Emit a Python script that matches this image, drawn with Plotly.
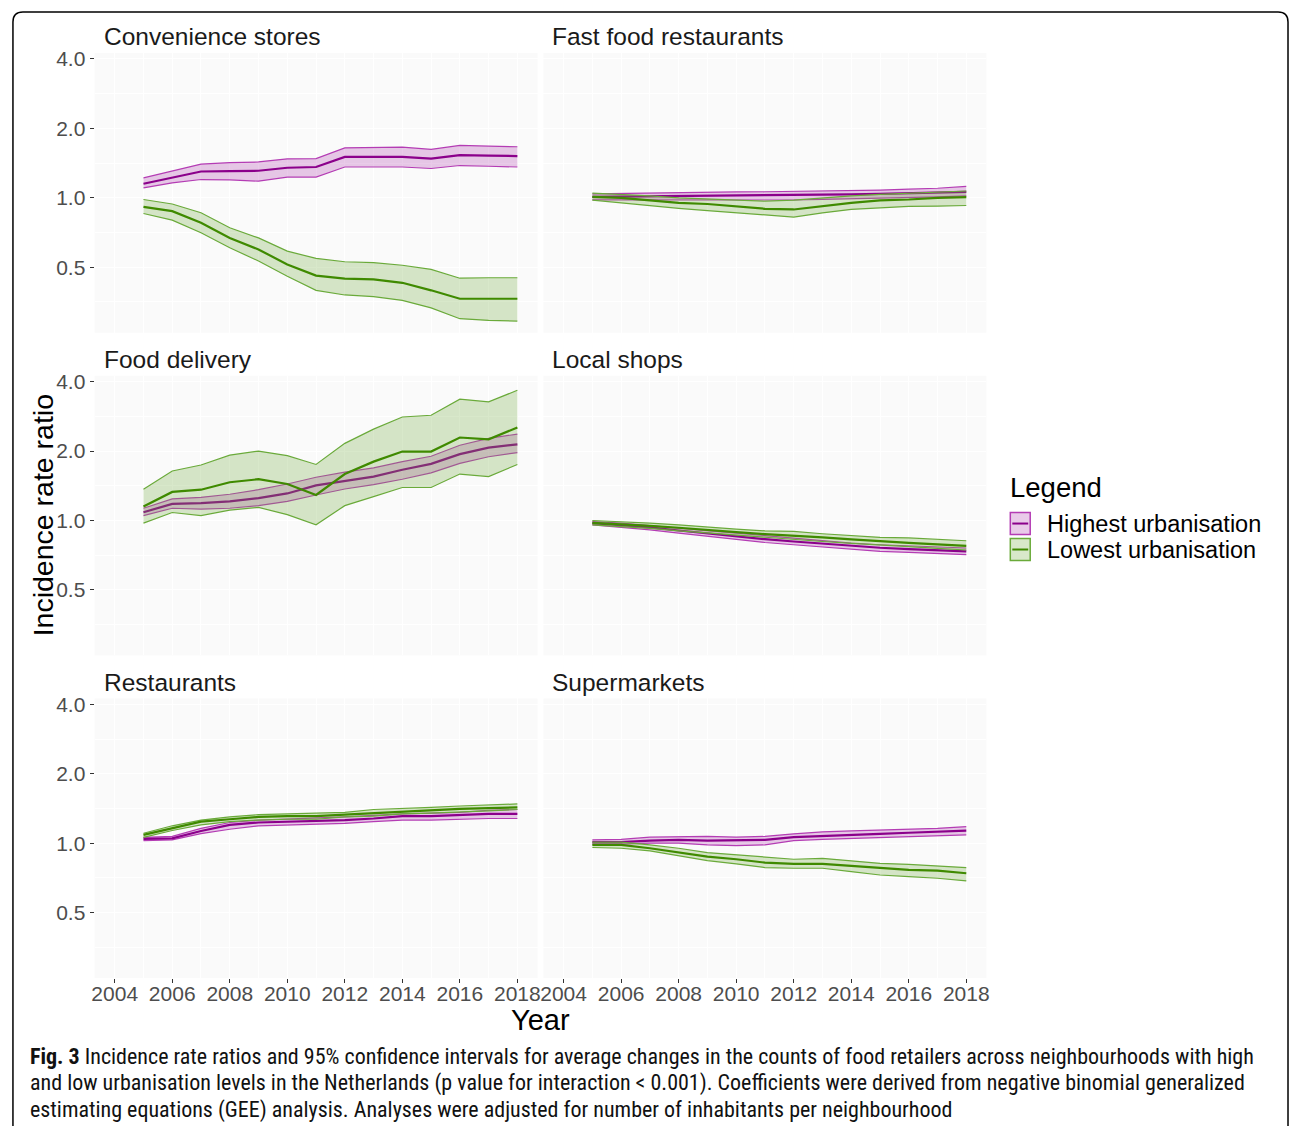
import plotly.graph_objects as go

years = list(range(2005, 2019))
panels = ["Convenience stores", "Fast food restaurants", "Food delivery",
          "Local shops", "Restaurants", "Supermarkets"]
x_ticks = [2004, 2006, 2008, 2010, 2012, 2014, 2016, 2018]
y_ticks = [0.5, 1.0, 2.0, 4.0]
y_tick_labels = ["0.5", "1.0", "2.0", "4.0"]
groups = ["Highest urbanisation", "Lowest urbanisation"]

# Convenience stores
cs_hi_mean = [1.15, 1.22, 1.30, 1.305, 1.31, 1.35, 1.36, 1.505, 1.505, 1.505, 1.48, 1.53, 1.525, 1.516]
cs_hi_low = [1.105, 1.16, 1.20, 1.197, 1.18, 1.23, 1.23, 1.36, 1.36, 1.36, 1.34, 1.38, 1.37, 1.36]
cs_hi_up = [1.22, 1.305, 1.40, 1.42, 1.43, 1.475, 1.48, 1.647, 1.647, 1.657, 1.62, 1.686, 1.675, 1.665]
cs_lo_mean = [0.914, 0.875, 0.779, 0.67, 0.597, 0.514, 0.46, 0.446, 0.443, 0.428, 0.397, 0.365, 0.365, 0.365]
cs_lo_low = [0.855, 0.80, 0.705, 0.607, 0.532, 0.457, 0.397, 0.379, 0.373, 0.359, 0.333, 0.299, 0.294, 0.292]
cs_lo_up = [0.983, 0.94, 0.861, 0.741, 0.67, 0.587, 0.546, 0.528, 0.523, 0.51, 0.489, 0.448, 0.45, 0.45]

# Fast food restaurants
ff_hi_mean = [1.01, 1.012, 1.015, 1.018, 1.02, 1.022, 1.025, 1.028, 1.03, 1.035, 1.04, 1.045, 1.05, 1.06]
ff_hi_low = [0.98, 0.98, 0.978, 0.978, 0.976, 0.975, 0.975, 0.978, 0.985, 0.99, 0.998, 1.005, 1.01, 1.02]
ff_hi_up = [1.04, 1.045, 1.05, 1.055, 1.058, 1.06, 1.062, 1.065, 1.07, 1.075, 1.08, 1.09, 1.10, 1.12]
ff_lo_mean = [1.01, 1.0, 0.974, 0.95, 0.94, 0.92, 0.896, 0.89, 0.92, 0.95, 0.974, 0.983, 1.0, 1.007]
ff_lo_low = [0.977, 0.95, 0.93, 0.90, 0.88, 0.86, 0.838, 0.825, 0.86, 0.89, 0.905, 0.917, 0.92, 0.926]
ff_lo_up = [1.047, 1.035, 1.02, 1.0, 0.99, 0.983, 0.967, 0.977, 1.0, 1.02, 1.035, 1.045, 1.06, 1.07]

# Food delivery
fd_hi_mean = [1.086, 1.18, 1.19, 1.21, 1.25, 1.31, 1.42, 1.48, 1.55, 1.66, 1.76, 1.94, 2.07, 2.14]
fd_hi_low = [1.05, 1.13, 1.12, 1.13, 1.16, 1.21, 1.29, 1.37, 1.43, 1.51, 1.61, 1.77, 1.89, 1.97]
fd_hi_up = [1.13, 1.24, 1.26, 1.30, 1.36, 1.44, 1.54, 1.62, 1.69, 1.80, 1.90, 2.12, 2.27, 2.37]
fd_lo_mean = [1.15, 1.33, 1.36, 1.465, 1.51, 1.44, 1.29, 1.59, 1.80, 1.99, 1.99, 2.29, 2.25, 2.53]
fd_lo_low = [0.974, 1.083, 1.05, 1.11, 1.14, 1.06, 0.958, 1.16, 1.27, 1.39, 1.39, 1.59, 1.55, 1.75]
fd_lo_up = [1.366, 1.64, 1.74, 1.92, 2.0, 1.91, 1.75, 2.16, 2.49, 2.81, 2.86, 3.36, 3.27, 3.67]

# Local shops
ls_hi_mean = [0.974, 0.955, 0.933, 0.905, 0.879, 0.853, 0.83, 0.811, 0.793, 0.775, 0.762, 0.752, 0.742, 0.735]
ls_hi_low = [0.958, 0.936, 0.911, 0.882, 0.853, 0.825, 0.803, 0.785, 0.767, 0.747, 0.735, 0.727, 0.718, 0.711]
ls_hi_up = [0.99, 0.974, 0.951, 0.927, 0.902, 0.879, 0.856, 0.84, 0.817, 0.798, 0.785, 0.777, 0.767, 0.76]
ls_lo_mean = [0.977, 0.964, 0.948, 0.93, 0.908, 0.89, 0.873, 0.861, 0.845, 0.828, 0.811, 0.80, 0.788, 0.777]
ls_lo_low = [0.958, 0.942, 0.924, 0.902, 0.882, 0.861, 0.845, 0.828, 0.811, 0.796, 0.78, 0.77, 0.757, 0.745]
ls_lo_up = [1.0, 0.99, 0.974, 0.958, 0.936, 0.917, 0.902, 0.897, 0.876, 0.861, 0.845, 0.84, 0.826, 0.817]

# Restaurants
re_hi_mean = [1.044, 1.05, 1.13, 1.20, 1.23, 1.24, 1.25, 1.26, 1.28, 1.31, 1.31, 1.32, 1.34, 1.34]
re_hi_low = [1.027, 1.034, 1.10, 1.15, 1.19, 1.20, 1.21, 1.22, 1.24, 1.26, 1.26, 1.27, 1.28, 1.28]
re_hi_up = [1.06, 1.07, 1.16, 1.23, 1.26, 1.27, 1.28, 1.30, 1.32, 1.34, 1.35, 1.36, 1.39, 1.40]
re_lo_mean = [1.087, 1.16, 1.24, 1.27, 1.30, 1.31, 1.31, 1.33, 1.35, 1.37, 1.39, 1.41, 1.42, 1.43]
re_lo_low = [1.06, 1.135, 1.20, 1.24, 1.26, 1.27, 1.27, 1.30, 1.31, 1.34, 1.35, 1.36, 1.38, 1.40]
re_lo_up = [1.105, 1.19, 1.26, 1.30, 1.33, 1.34, 1.34, 1.36, 1.40, 1.41, 1.43, 1.45, 1.47, 1.48]

# Supermarkets
sm_hi_mean = [1.01, 1.01, 1.027, 1.034, 1.027, 1.027, 1.034, 1.062, 1.076, 1.087, 1.098, 1.11, 1.12, 1.135]
sm_hi_low = [0.99, 0.99, 1.0, 1.0, 0.983, 0.977, 0.983, 1.027, 1.04, 1.05, 1.06, 1.07, 1.076, 1.087]
sm_hi_up = [1.034, 1.04, 1.062, 1.07, 1.07, 1.062, 1.07, 1.098, 1.12, 1.13, 1.14, 1.15, 1.16, 1.18]
sm_lo_mean = [0.983, 0.983, 0.951, 0.914, 0.875, 0.852, 0.824, 0.813, 0.813, 0.797, 0.779, 0.766, 0.761, 0.741]
sm_lo_low = [0.958, 0.951, 0.926, 0.881, 0.841, 0.813, 0.784, 0.779, 0.779, 0.753, 0.728, 0.717, 0.705, 0.686]
sm_lo_up = [1.01, 1.01, 0.983, 0.951, 0.911, 0.89, 0.866, 0.852, 0.86, 0.841, 0.818, 0.81, 0.797, 0.784]

series = {
    "Convenience stores": [(cs_hi_mean, cs_hi_low, cs_hi_up), (cs_lo_mean, cs_lo_low, cs_lo_up)],
    "Fast food restaurants": [(ff_hi_mean, ff_hi_low, ff_hi_up), (ff_lo_mean, ff_lo_low, ff_lo_up)],
    "Food delivery": [(fd_hi_mean, fd_hi_low, fd_hi_up), (fd_lo_mean, fd_lo_low, fd_lo_up)],
    "Local shops": [(ls_hi_mean, ls_hi_low, ls_hi_up), (ls_lo_mean, ls_lo_low, ls_lo_up)],
    "Restaurants": [(re_hi_mean, re_hi_low, re_hi_up), (re_lo_mean, re_lo_low, re_lo_up)],
    "Supermarkets": [(sm_hi_mean, sm_hi_low, sm_hi_up), (sm_lo_mean, sm_lo_low, sm_lo_up)],
}

W, H = 1293, 1126
FONT = "Liberation Sans, Arial, sans-serif"
line_cols = ["#8B008B", "#3F8A00"]
edge_cols = ["#B43CB4", "#6AAA3A"]
fill_cols = ["rgba(175,60,175,0.27)", "rgba(110,170,60,0.27)"]

# panel pixel boxes (left, right) and (top, bottom)
col_x = [(92, 537), (543, 988)]
row_y = [(52, 332), (375, 655), (698, 978)]


def px(x):
    return x / W


def py(y):
    # small vertical correction observed in the rendered page
    y = (y - 5) * 1126 / 1121
    return 1 - y / H


fig = go.Figure()
layout_axes = {}
minor_y = [0.3536, 0.7071, 1.4142, 2.8284]
for i, name in enumerate(panels):
    r, c = divmod(i, 2)
    idx = i + 1
    xa = "x" if idx == 1 else f"x{idx}"
    ya = "y" if idx == 1 else f"y{idx}"
    for g in range(2):
        mean, low, up = series[name][g]
        fig.add_trace(go.Scatter(x=years, y=low, mode="lines",
                                 line=dict(color=edge_cols[g], width=1.2),
                                 xaxis=xa, yaxis=ya, showlegend=False, hoverinfo="skip"))
        fig.add_trace(go.Scatter(x=years, y=up, mode="lines", fill="tonexty",
                                 fillcolor=fill_cols[g],
                                 line=dict(color=edge_cols[g], width=1.2),
                                 xaxis=xa, yaxis=ya, showlegend=False, hoverinfo="skip"))
        fig.add_trace(go.Scatter(x=years, y=mean, mode="lines",
                                 line=dict(color=line_cols[g], width=2.2),
                                 xaxis=xa, yaxis=ya, showlegend=False,
                                 name=groups[g]))
    x0, x1 = col_x[c]
    y0, y1 = row_y[r]
    kx = "xaxis" if idx == 1 else f"xaxis{idx}"
    ky = "yaxis" if idx == 1 else f"yaxis{idx}"
    layout_axes[kx] = dict(
        domain=[px(x0), px(x1)], range=[2003.3, 2018.7], anchor=ya,
        tickvals=x_ticks, ticktext=[str(t) for t in x_ticks],
        showticklabels=(r == 2), ticks="outside" if r == 2 else "", ticklen=4, tickcolor="#333333",
        ticklabelstandoff=-7,
        tickfont=dict(family=FONT, size=21, color="#4D4D4D"),
        showgrid=True, gridcolor="#FFFFFF", gridwidth=1.2, zeroline=False, showline=False,
        minor=dict(tickvals=[2005, 2007, 2009, 2011, 2013, 2015, 2017], showgrid=True,
                   gridcolor="#FFFFFF", gridwidth=0.6, ticks=""),
    )
    layout_axes[ky] = dict(
        domain=[py(y1), py(y0)], type="log", range=[-0.585, 0.628], anchor=xa,
        tickvals=y_ticks, ticktext=y_tick_labels,
        showticklabels=(c == 0), ticks="outside" if c == 0 else "", ticklen=4, tickcolor="#333333",
        tickfont=dict(family=FONT, size=21, color="#4D4D4D"),
        showgrid=True, gridcolor="#FFFFFF", gridwidth=1.2, zeroline=False, showline=False,
        minor=dict(tickvals=minor_y, showgrid=True, gridcolor="#FFFFFF", gridwidth=0.6, ticks=""),
    )

annotations = []
for i, name in enumerate(panels):
    r, c = divmod(i, 2)
    annotations.append(dict(text=name, x=px(col_x[c][0] + 7), y=py(row_y[r][0] - 16),
                            xref="paper", yref="paper", xanchor="left", yanchor="middle",
                            showarrow=False,
                            font=dict(family=FONT, size=24.5, color="#1A1A1A")))

annotations.append(dict(text="Incidence rate ratio", x=px(40), y=py(515), xref="paper", yref="paper",
                        textangle=-90, showarrow=False, xanchor="center", yanchor="middle",
                        font=dict(family=FONT, size=28.5, color="#000000")))
annotations.append(dict(text="Year", x=px(540), y=py(1020), xref="paper", yref="paper",
                        showarrow=False, xanchor="center", yanchor="middle",
                        font=dict(family=FONT, size=29, color="#000000")))

# legend (drawn manually)
annotations.append(dict(text="Legend", x=px(1010), y=py(487), xref="paper", yref="paper",
                        showarrow=False, xanchor="left", yanchor="middle",
                        font=dict(family=FONT, size=27.5, color="#000000")))
leg_y = [523, 549]
shapes = []
for g in range(2):
    annotations.append(dict(text=groups[g], x=px(1047), y=py(leg_y[g]), xref="paper", yref="paper",
                            showarrow=False, xanchor="left", yanchor="middle",
                            font=dict(family=FONT, size=23.5, color="#000000")))
    shapes.append(dict(type="rect", xref="paper", yref="paper",
                       x0=px(1012), x1=px(1032), y0=py(leg_y[g] + 11), y1=py(leg_y[g] - 11),
                       fillcolor=fill_cols[g], line=dict(color=edge_cols[g], width=1.5)))
    shapes.append(dict(type="line", xref="paper", yref="paper",
                       x0=px(1014), x1=px(1030), y0=py(leg_y[g]), y1=py(leg_y[g]),
                       line=dict(color=line_cols[g], width=2)))


# outer rounded frame
def P(x, y):
    return f"{px(x):.5f},{py(y):.5f}"


frame = (f"M {P(10, 1126)} L {P(10, 21)} Q {P(10, 11)} {P(20, 11)} "
         f"L {P(1281, 11)} Q {P(1291, 11)} {P(1291, 21)} L {P(1291, 1126)}")
shapes.append(dict(type="path", xref="paper", yref="paper", path=frame,
                   line=dict(color="#000000", width=1.5)))

cap_font = dict(family="Liberation Sans Narrow, Arial Narrow, Roboto Condensed, Liberation Sans, sans-serif",
                size=22, color="#111111")
cap_lines = [
    "<b>Fig. 3</b> Incidence rate ratios and 95% confidence intervals for average changes in the counts of food retailers across neighbourhoods with high",
    "and low urbanisation levels in the Netherlands (p value for interaction &lt; 0.001). Coefficients were derived from negative binomial generalized",
    "estimating equations (GEE) analysis. Analyses were adjusted for number of inhabitants per neighbourhood",
]
for k, t in enumerate(cap_lines):
    annotations.append(dict(text=t, x=px(25), y=py(1056 + 27 * k), xref="paper", yref="paper",
                            showarrow=False, xanchor="left", yanchor="middle", font=cap_font))

fig.update_layout(
    width=W, height=H, margin=dict(l=0, r=0, t=0, b=0),
    paper_bgcolor="#FFFFFF", plot_bgcolor="#FAFAFA",
    showlegend=False, annotations=annotations, shapes=shapes,
    **layout_axes,
)
fig.write_html("out.html")
